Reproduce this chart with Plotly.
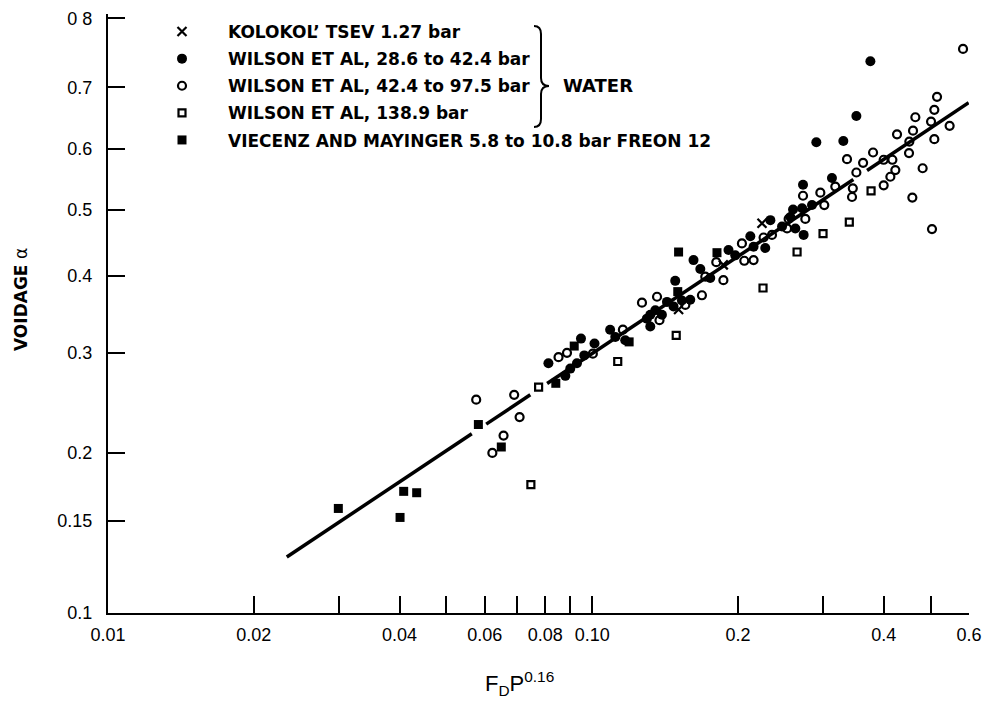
import numpy as np
import plotly.graph_objects as go

# ---------------- data ----------------
kol_x = [0.1508, 0.1865, 0.2242]
kol_y = [0.354, 0.416, 0.479]

w1_x = [0.0812, 0.0880, 0.0901, 0.0930, 0.0948, 0.0963, 0.1011, 0.1089, 0.1116, 0.1170,
        0.1297, 0.1318, 0.1350, 0.1318, 0.1393, 0.1427, 0.1472, 0.1532, 0.1594, 0.1484,
        0.1619, 0.1672, 0.1753, 0.1912, 0.1974, 0.2121, 0.2154, 0.2277, 0.2333, 0.2466,
        0.2627, 0.2566, 0.2599, 0.2713, 0.2844, 0.2725, 0.3127, 0.2733, 0.2903, 0.3301,
        0.3512, 0.3754]
w1_y = [0.288, 0.274, 0.282, 0.288, 0.317, 0.297, 0.311, 0.328, 0.319, 0.315,
        0.342, 0.332, 0.353, 0.347, 0.347, 0.364, 0.358, 0.366, 0.367, 0.393,
        0.423, 0.410, 0.397, 0.438, 0.430, 0.459, 0.443, 0.441, 0.484, 0.474,
        0.471, 0.489, 0.501, 0.503, 0.508, 0.541, 0.552, 0.461, 0.611, 0.613,
        0.654, 0.740]

w2_x = [0.0576, 0.0690, 0.0708, 0.0656, 0.0622, 0.0852, 0.0887, 0.1003, 0.1157, 0.1267,
        0.1361, 0.1377, 0.1557, 0.1685, 0.1712, 0.1804, 0.1866, 0.2038, 0.2061, 0.2154,
        0.2259, 0.2351, 0.2526, 0.2545, 0.2755, 0.2725, 0.2959, 0.3015, 0.3177, 0.3453,
        0.3440, 0.3512, 0.3359, 0.3626, 0.3802, 0.3999, 0.4168, 0.4227, 0.4128, 0.3999,
        0.4261, 0.4518, 0.4511, 0.4598, 0.4649, 0.4813, 0.4583, 0.5009, 0.5088, 0.5154,
        0.5088, 0.5472, 0.5032, 0.5832]
w2_y = [0.249, 0.254, 0.232, 0.215, 0.200, 0.295, 0.300, 0.299, 0.328, 0.363,
        0.371, 0.340, 0.360, 0.373, 0.399, 0.420, 0.394, 0.448, 0.422, 0.423,
        0.457, 0.461, 0.471, 0.486, 0.486, 0.523, 0.528, 0.508, 0.538, 0.535,
        0.521, 0.561, 0.583, 0.577, 0.594, 0.582, 0.582, 0.565, 0.554, 0.540,
        0.624, 0.612, 0.593, 0.630, 0.652, 0.568, 0.520, 0.645, 0.664, 0.685,
        0.616, 0.638, 0.470, 0.758]

w3_x = [0.0747, 0.0775, 0.1129, 0.1491, 0.2253, 0.2649, 0.2997, 0.3396, 0.3766]
w3_y = [0.175, 0.262, 0.290, 0.321, 0.383, 0.435, 0.463, 0.481, 0.531]

fr_x = [0.0299, 0.0401, 0.0408, 0.0434, 0.0582, 0.0649, 0.0841, 0.0918, 0.1192, 0.1502, 0.1508, 0.1810]
fr_y = [0.158, 0.152, 0.170, 0.169, 0.225, 0.205, 0.266, 0.308, 0.313, 0.378, 0.435, 0.434]

# correlation line: end points and gaps (x values)
line_x = [0.0234, 0.599]
line_y = [0.128, 0.6755]
line_gaps = [(0.0564, 0.0604), (0.0745, 0.0807), (0.3462, 0.3695)]

x_tickvals = [0.01, 0.02, 0.03, 0.04, 0.05, 0.06, 0.07, 0.08, 0.09, 0.10, 0.2, 0.3, 0.4, 0.5, 0.6]
x_ticktext = ["0.01", "0.02", "", "0.04", "", "0.06", "", "0.08", "", "0.10", "0.2", "", "0.4", "", "0.6"]
y_tickvals = [0.1, 0.15, 0.2, 0.3, 0.4, 0.5, 0.6, 0.7, 0.8]
y_ticktext = ["0.1", "0.15", "0.2", "0.3", "0.4", "0.5", "0.6", "0.7", "0 8"]

legend_names = ["KOLOKOL’ TSEV 1.27 bar",
                "WILSON ET AL, 28.6 to 42.4 bar",
                "WILSON ET AL, 42.4 to 97.5 bar",
                "WILSON ET AL, 138.9 bar",
                "VIECENZ AND MAYINGER 5.8 to 10.8 bar FREON 12"]

# ---------------- voidage scale of the original graph paper ----------------
K = 0.4636


def T(a):
    a = np.asarray(a, dtype=float)
    return np.log(a) - K * np.log(1.0 - a)


# layout geometry (pixels)
W, H = 984, 704
ML, MR, MT, MB = 108, 15, 14, 91
PW, PH = W - ML - MR, H - MT - MB


def px(xp):
    return (xp - ML) / PW


def py(yp):
    return (H - MB - yp) / PH


# line segments with gaps, straight in (log x, T) space
lx0, lx1 = np.log10(line_x[0]), np.log10(line_x[1])
ly0, ly1 = T(line_y[0]), T(line_y[1])
bounds = [line_x[0]]
for g0, g1 in line_gaps:
    bounds += [g0, g1]
bounds.append(line_x[1])
seg_x, seg_y = [], []
for i in range(0, len(bounds), 2):
    for xv in (bounds[i], bounds[i + 1]):
        f = (np.log10(xv) - lx0) / (lx1 - lx0)
        seg_x.append(xv)
        seg_y.append(float(ly0 + f * (ly1 - ly0)))
    seg_x.append(None)
    seg_y.append(None)

fig = go.Figure()
fig.add_trace(go.Scatter(x=seg_x, y=seg_y, mode="lines",
                         line=dict(color="black", width=3.5), showlegend=False,
                         hoverinfo="skip"))

series = [
    (kol_x, kol_y, legend_names[0], dict(symbol="x-thin-open", size=9, line=dict(width=2.2, color="black"), color="black")),
    (w1_x, w1_y, legend_names[1], dict(symbol="circle", size=10, color="black", line=dict(width=0))),
    (w2_x, w2_y, legend_names[2], dict(symbol="circle-open", size=8, color="black", line=dict(width=2.2, color="black"))),
    (w3_x, w3_y, legend_names[3], dict(symbol="square-open", size=7, color="black", line=dict(width=2.2, color="black"))),
    (fr_x, fr_y, legend_names[4], dict(symbol="square", size=9, color="black", line=dict(width=0))),
]
for i, (xs, ys, name, mk) in enumerate(series):
    fig.add_trace(go.Scatter(x=xs, y=T(ys).tolist(), mode="markers", name=name,
                             marker=mk, legendgroup=f"g{i}", legendrank=i + 1))

y_lo = float(T(0.1))
y_hi = y_lo + 598.7 / 214.0

fig.update_layout(
    width=W, height=H,
    margin=dict(l=ML, r=MR, t=MT, b=MB, autoexpand=False),
    plot_bgcolor="white", paper_bgcolor="white",
    font=dict(family="Liberation Sans", color="black", size=18),
    xaxis=dict(type="log", range=[-2, np.log10(0.6)], tickvals=x_tickvals, ticktext=x_ticktext,
               ticks="inside", ticklen=17, tickwidth=1.5, tickcolor="black", tickangle=0,
               showline=True, linewidth=2, linecolor="black", showgrid=False, zeroline=False,
               tickfont=dict(size=18), ticklabelstandoff=4),
    yaxis=dict(range=[y_lo, y_hi], tickvals=T(y_tickvals).tolist(), ticktext=y_ticktext,
               ticks="inside", ticklen=17, tickwidth=1.5, tickcolor="black",
               showline=True, linewidth=2, linecolor="black", showgrid=False, zeroline=False,
               tickfont=dict(size=18), ticklabelstandoff=10),
    showlegend=True,
    legend=dict(xref="paper", yref="paper", x=px(136), y=1.0,
                xanchor="left", yanchor="top", bgcolor="rgba(0,0,0,0)",
                font=dict(size=17, family="DejaVu Sans", color="black", weight="bold"),
                itemwidth=82, traceorder="grouped", tracegroupgap=2),
)

fig.add_annotation(xref="paper", yref="paper", x=px(21), y=py(300), text="<b>VOIDAGE</b> α",
                   textangle=-90, showarrow=False, font=dict(size=17, family="DejaVu Sans"),
                   xanchor="center", yanchor="middle")
fig.add_annotation(xref="paper", yref="paper", x=px(519), y=py(683), text="F<sub>D</sub>P<sup>0.16</sup>",
                   showarrow=False, font=dict(size=22), xanchor="center", yanchor="middle")
fig.add_annotation(xref="paper", yref="paper", x=px(561), y=py(86), text="<b>WATER</b>",
                   showarrow=False, font=dict(size=18, family="DejaVu Sans"), xanchor="left", yanchor="middle")

# brace grouping the water data
bx, btop, bmid, bbot, tip = 534, 26, 86, 127, 549
pts = [(bx, btop), (bx + 7, btop), (bx + 7, btop + 8), (bx + 7, bmid - 8), (bx + 7, bmid), (tip, bmid),
       (bx + 7, bmid), (bx + 7, bmid + 8), (bx + 7, bbot - 8), (bx + 7, bbot), (bx, bbot)]
P = [(px(a), py(b)) for a, b in pts]
path = (f"M {P[0][0]},{P[0][1]} Q {P[1][0]},{P[1][1]} {P[2][0]},{P[2][1]} L {P[3][0]},{P[3][1]} "
        f"Q {P[4][0]},{P[4][1]} {P[5][0]},{P[5][1]} Q {P[6][0]},{P[6][1]} {P[7][0]},{P[7][1]} "
        f"L {P[8][0]},{P[8][1]} Q {P[9][0]},{P[9][1]} {P[10][0]},{P[10][1]}")
fig.add_shape(type="path", path=path, xref="paper", yref="paper", line=dict(color="black", width=2))

fig.write_html("out.html")
